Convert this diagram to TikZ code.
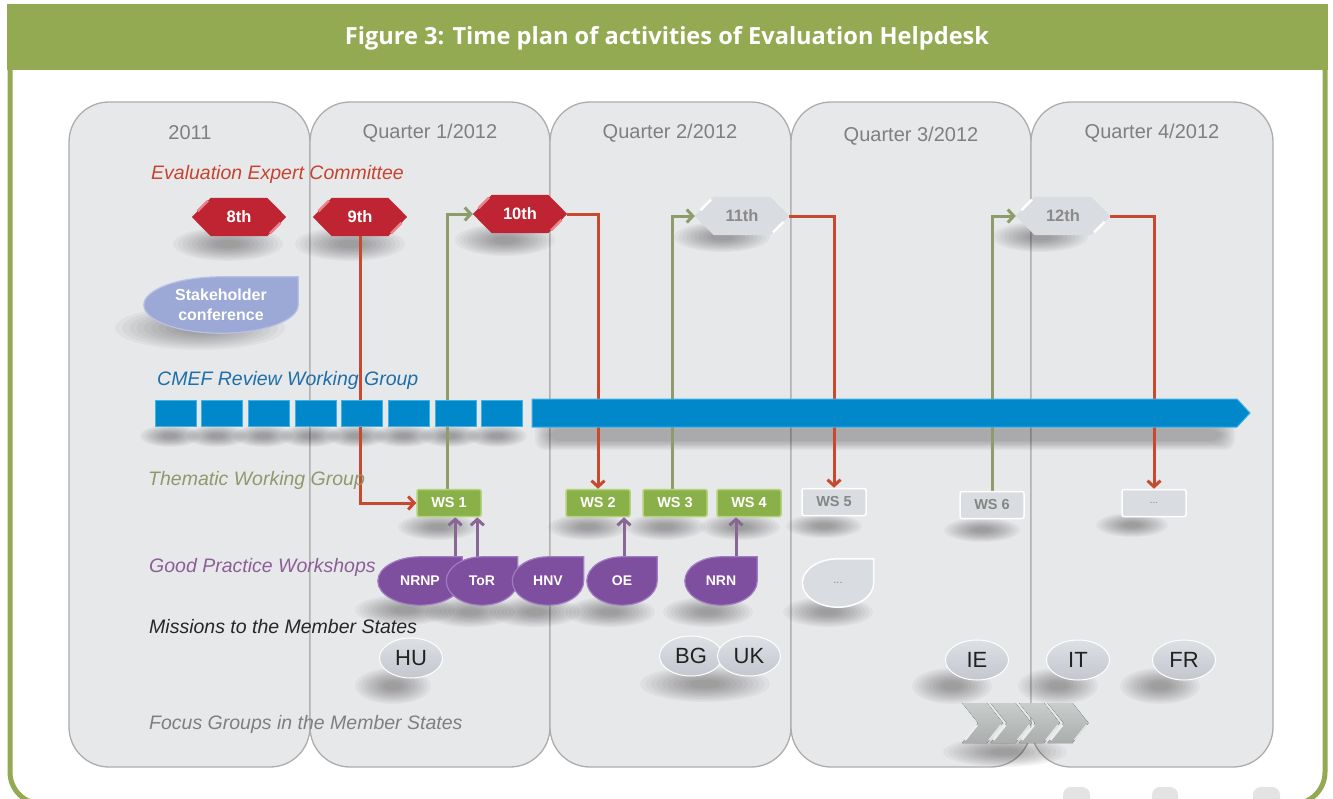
\documentclass[tikz,border=0pt]{standalone}
\usepackage{fontspec}
\setmainfont{Liberation Sans}
\newfontfamily\titlefont{Open Sans}
\usetikzlibrary{arrows.meta,calc,shapes.geometric}
\pgfdeclarelayer{cols}
\pgfdeclarelayer{shad}
\pgfdeclarelayer{links}
\pgfdeclarelayer{shapes}
\pgfsetlayers{cols,shad,links,shapes,main}

\definecolor{hdrgreen}{HTML}{93A952}
\definecolor{colfill}{HTML}{E7E8EA}
\definecolor{coledge}{HTML}{ADADAD}
\definecolor{headgray}{HTML}{7F7F7F}
\definecolor{labred}{HTML}{C8432E}
\definecolor{labblue}{HTML}{1E6FA9}
\definecolor{labolive}{HTML}{8E9A6C}
\definecolor{labpurple}{HTML}{8D5E98}
\definecolor{labblack}{HTML}{262626}
\definecolor{hexred}{HTML}{BE2431}
\definecolor{hexredhi}{HTML}{E8838A}
\definecolor{ghost}{HTML}{D9DCE0}
\definecolor{ghosttext}{HTML}{858585}
\definecolor{hexgtext}{HTML}{8A8A8A}
\definecolor{stakeblue}{HTML}{9CA8D5}
\definecolor{stakeedge}{HTML}{B9C2E6}
\definecolor{purp}{HTML}{7E4E9F}
\definecolor{purpedge}{HTML}{A07CC0}
\definecolor{wsgreen}{HTML}{8AB049}
\definecolor{wsedge}{HTML}{B3D27A}
\definecolor{cmefblue}{HTML}{0088CB}
\definecolor{cmefedge}{HTML}{3DB2E8}
\definecolor{misstop}{HTML}{DDE0E5}
\definecolor{missbot}{HTML}{C3C7CE}
\definecolor{misstext}{HTML}{222222}
\definecolor{chevtop}{HTML}{C9CDCB}
\definecolor{chevbot}{HTML}{A9ADAB}
\definecolor{linkred}{HTML}{C8492F}
\definecolor{linkolive}{HTML}{8D9C6A}
\definecolor{linkpurple}{HTML}{8A6696}
\definecolor{bumpgray}{HTML}{E3E3E3}

% soft shadow: centre x, centre y, x radius, y radius
\newcommand{\softell}[4]{%
  \foreach \k in {0,...,9}{%
    \fill[black,opacity=0.035] (#1,#2) ellipse [x radius={(#3)*(1-0.085*\k)*1pt}, y radius={(#4)*(1-0.085*\k)*1pt}];}}
% soft box shadow: x1 y1 x2 y2
\newcommand{\softrect}[4]{%
  \foreach \k in {0,...,7}{%
    \fill[black,opacity=0.035,rounded corners=10pt] ({#1+2*\k},{#2+1.3*\k}) rectangle ({#3-2*\k},{#4-1.3*\k});}}
% hexagon behind a node: node, fill, highlight
\newcommand{\hexshape}[3]{%
  \fill[#2] (#1.west) -- ([xshift=19pt]#1.north west) -- ([xshift=-19pt]#1.north east) -- (#1.east)
     -- ([xshift=-19pt]#1.south east) -- ([xshift=19pt]#1.south west) -- cycle;
  \draw[#3,line width=2.5pt] ($(#1.west)!0.3!([xshift=19pt]#1.north west)$) -- ($(#1.west)!0.85!([xshift=19pt]#1.north west)$);
  \draw[#3,line width=2.5pt] ($(#1.east)!0.3!([xshift=-19pt]#1.south east)$) -- ($(#1.east)!0.85!([xshift=-19pt]#1.south east)$);}
% teardrop behind a node: node, style
\newcommand{\tearshape}[2]{%
  \path[#2] (#1.north east) -- (#1.north)
    .. controls ($(#1.north)!0.552!(#1.north west)$) and ($(#1.west)!0.552!(#1.north west)$) .. (#1.west)
    .. controls ($(#1.west)!0.552!(#1.south west)$) and ($(#1.south)!0.552!(#1.south west)$) .. (#1.south)
    .. controls ($(#1.south)!0.552!(#1.south east)$) and ($(#1.east)!0.552!(#1.south east)$) .. (#1.east) -- cycle;}

\tikzset{
  colbox/.style={fill=colfill, draw=coledge, line width=1.3pt, rounded corners=40pt},
  colhead/.style={text=headgray, font=\fontsize{20}{24}\selectfont, inner sep=0pt},
  rowlab/.style={font=\itshape\fontsize{19.5}{23}\selectfont, anchor=west, inner sep=0pt},
  hexnode/.style={rectangle, minimum width=94pt, minimum height=38pt, inner sep=0pt, font=\bfseries\fontsize{16.5}{19}\selectfont},
  tearnode/.style={rectangle, minimum width=#1, minimum height=48pt, inner sep=0pt, font=\bfseries\fontsize{14}{16}\selectfont, text=white},
  wsbox/.style={rectangle, rounded corners=2pt, minimum width=64pt, minimum height=27pt, inner sep=0pt, font=\bfseries\fontsize{14.5}{16}\selectfont},
  wsgreenbox/.style={wsbox, fill=wsgreen, draw=wsedge, line width=1.5pt, text=white},
  wsghost/.style={wsbox, fill=ghost, draw=white, line width=1.5pt, text=ghosttext},
  missnode/.style={ellipse, minimum width=63pt, minimum height=40pt, inner sep=0pt, top color=misstop, bottom color=missbot, draw=white, line width=1pt, font=\fontsize{22}{24}\selectfont, text=misstext},
  conn/.style={line width=3pt, -{Straight Barb[length=6pt,width=13pt]}},
  redconn/.style={conn, draw=linkred},
  oliveconn/.style={conn, draw=linkolive},
  purpleconn/.style={conn, draw=linkpurple},
}

\begin{document}
\begin{tikzpicture}[x=1pt,y=-1pt]
\useasboundingbox (0,0) rectangle (1333,798);

% ---------- frame and columns ----------
\begin{pgfonlayer}{cols}
  \fill[white] (0,0) rectangle (1333,798);
  \fill[bumpgray,rounded corners=8pt] (1063,787) rectangle (1090,806);
  \fill[bumpgray,rounded corners=8pt] (1152,787) rectangle (1178,806);
  \fill[bumpgray,rounded corners=8pt] (1253,787) rectangle (1280,806);
  \draw[hdrgreen, line width=5pt, rounded corners=32pt] (10,69) -- (10,804) -- (1325,804) -- (1325,69);
  \fill[hdrgreen] (7,4) rectangle (1328,70);
  \foreach \a/\b in {69/310, 310/550, 550/791, 791/1031, 1031/1273}
    \draw[colbox] (\a,102) rectangle (\b,767);
\end{pgfonlayer}

\node[font=\titlefont\bfseries\fontsize{23.6}{28}\selectfont, text=white, inner sep=0pt] (title) at (667,38) {Figure 3: Time plan of activities of Evaluation Helpdesk};

% ---------- column heads and row labels ----------
\node[colhead] (y2011) at (190,133) {2011};
\node[colhead] (q1) at (430,133) {Quarter 1/2012};
\node[colhead] (q2) at (670,133) {Quarter 2/2012};
\node[colhead] (q3) at (911,136) {Quarter 3/2012};
\node[colhead] (q4) at (1152,133) {Quarter 4/2012};

\node[rowlab,text=labred] (leec) at (151,174) {Evaluation Expert Committee};
\node[rowlab,text=labblue] (lcmef) at (157,380) {CMEF Review Working Group};
\node[rowlab,text=labolive] (ltwg) at (148,480) {Thematic Working Group};
\node[rowlab,text=labpurple] (lgpw) at (149,567) {Good Practice Workshops};
\node[rowlab,text=labblack] (lmis) at (149,627) {Missions to the Member States};
\node[rowlab,text=headgray] (lfoc) at (149,724) {Focus Groups in the Member States};

% ---------- committee meetings ----------
\node[hexnode,text=white] (h8) at (239,217) {8th};
\node[hexnode,text=white] (h9) at (360,217) {9th};
\node[hexnode,text=white] (h10) at (520,214) {10th};
\node[hexnode,text=hexgtext] (h11) at (742,216) {11th};
\node[hexnode,text=hexgtext] (h12) at (1063,216) {12th};

\node[tearnode=154pt, minimum height=56pt, align=center, font=\bfseries\fontsize{16}{20}\selectfont] (stake) at (221,305) {Stakeholder\\conference};

% ---------- thematic working group ----------
\node[wsgreenbox] (ws1) at (449,503) {WS 1};
\node[wsgreenbox] (ws2) at (598,503) {WS 2};
\node[wsgreenbox] (ws3) at (675,503) {WS 3};
\node[wsgreenbox] (ws4) at (749,503) {WS 4};
\node[wsghost] (ws5) at (834,502) {WS 5};
\node[wsghost] (ws6) at (992,505) {WS 6};
\node[wsghost, font=\fontsize{10}{12}\selectfont] (ws7) at (1154,503) {...};

% ---------- good practice workshops ----------
\node[tearnode=84pt] (nrnp) at (420,581) {NRNP};
\node[tearnode=71pt] (tor) at (482,581) {ToR};
\node[tearnode=71pt] (hnv) at (548,581) {HNV};
\node[tearnode=70pt] (oe) at (622,581) {OE};
\node[tearnode=72pt] (nrn) at (721,581) {NRN};
\node[tearnode=71pt, text=ghosttext, font=\fontsize{11}{12}\selectfont] (gpx) at (838,583) {...};

% ---------- missions ----------
\node[missnode] (hu) at (411,658) {HU};
\node[missnode] (bg) at (691,656) {BG};
\node[missnode] (uk) at (749,656) {UK};
\node[missnode] (ie) at (977,660) {IE};
\node[missnode] (it) at (1078,660) {IT};
\node[missnode] (fr) at (1184,660) {FR};

% ---------- shadows ----------
\begin{pgfonlayer}{shad}
  \softell{228}{244}{55}{17}
  \softell{350}{244}{55}{17}
  \softell{505}{240}{50}{16}
  \softell{722}{237}{48}{15}
  \softell{1040}{237}{48}{15}
  \softell{200}{328}{85}{22}
  \foreach \i in {0,...,7} {\softell{170+46.7*\i}{436}{30}{11}}
  \softrect{535}{420}{1235}{450}
  \softell{438}{527}{40}{13}
  \softell{588}{527}{40}{13}
  \softell{665}{527}{40}{13}
  \softell{740}{527}{40}{13}
  \softell{824}{526}{38}{12}
  \softell{982}{530}{38}{12}
  \softell{1132}{525}{36}{12}
  \softell{405}{610}{50}{15}
  \softell{470}{612}{45}{15}
  \softell{535}{612}{45}{15}
  \softell{610}{612}{45}{15}
  \softell{708}{612}{45}{15}
  \softell{828}{612}{45}{15}
  \softell{393}{686}{38}{18}
  \softell{705}{684}{65}{18}
  \softell{952}{686}{40}{18}
  \softell{1058}{686}{40}{18}
  \softell{1160}{686}{40}{18}
  \softell{1005}{752}{62}{15}
\end{pgfonlayer}

% ---------- connectors ----------
\coordinate (pa) at ([xshift=-7pt]nrnp.north east);
\coordinate (pb) at ([xshift=31pt]tor.north west);
\coordinate (pc) at ([xshift=2pt]oe.north);
\coordinate (pd) at ([xshift=15pt]nrn.north);
\coordinate (oa) at ([xshift=-2pt]ws1.north);
\coordinate (ob) at ([xshift=-3pt]ws3.north);
\begin{pgfonlayer}{links}
  \draw[redconn] (h9.south) |- (ws1.west);
  \draw[redconn] (h10.east) -| (ws2.north);
  \draw[redconn] (h11.east) -| (ws5.north);
  \draw[redconn] (h12.east) -| (ws7.north);
  \draw[oliveconn] (oa) |- (h10.west);
  \draw[oliveconn] (ob) |- (h11.west);
  \draw[oliveconn] (ws6.north) |- (h12.west);
  \draw[purpleconn] (pa) -- (pa |- ws1.south);
  \draw[purpleconn] (pb) -- (pb |- ws1.south);
  \draw[purpleconn] (pc) -- (pc |- ws2.south);
  \draw[purpleconn] (pd) -- (pd |- ws4.south);
\end{pgfonlayer}

% ---------- shapes ----------
\begin{pgfonlayer}{shapes}
  \hexshape{h8}{hexred}{hexredhi}
  \hexshape{h9}{hexred}{hexredhi}
  \hexshape{h10}{hexred}{hexredhi}
  \hexshape{h11}{ghost}{white}
  \hexshape{h12}{ghost}{white}
  \tearshape{stake}{fill=stakeblue, draw=stakeedge, line width=1.2pt}
  \tearshape{nrnp}{fill=purp, draw=purpedge, line width=1.2pt}
  \tearshape{tor}{fill=purp, draw=purpedge, line width=1.2pt}
  \tearshape{hnv}{fill=purp, draw=purpedge, line width=1.2pt}
  \tearshape{oe}{fill=purp, draw=purpedge, line width=1.2pt}
  \tearshape{nrn}{fill=purp, draw=purpedge, line width=1.2pt}
  \tearshape{gpx}{fill=ghost, draw=white, line width=1.5pt}
  % CMEF bar
  \foreach \i in {0,...,7}
    \draw[fill=cmefblue, draw=cmefedge, line width=1pt] ({155+46.7*\i},400) rectangle ({196+46.7*\i},426);
  \draw[fill=cmefblue, draw=cmefedge, line width=1pt] (532,399) -- (1237,399) -- (1250,413) -- (1237,427) -- (532,427) -- cycle;
  % focus group chevrons
  \foreach \i in {0,...,3} {
    \fill[top color=chevtop, bottom color=chevbot] ({962+28.5*\i},703) -- ++(25,0) -- ++(16,20) -- ++(-16,20) -- ++(-25,0) -- ++(16,-20) -- cycle;
    \draw[white, line width=2pt, opacity=0.8] ({965+28.5*\i},740) -- ++(12,-15);
    \draw[white, line width=1.5pt, opacity=0.7] ({989+28.5*\i},740) -- ++(12,-15);
  }
\end{pgfonlayer}
\end{tikzpicture}
\end{document}
